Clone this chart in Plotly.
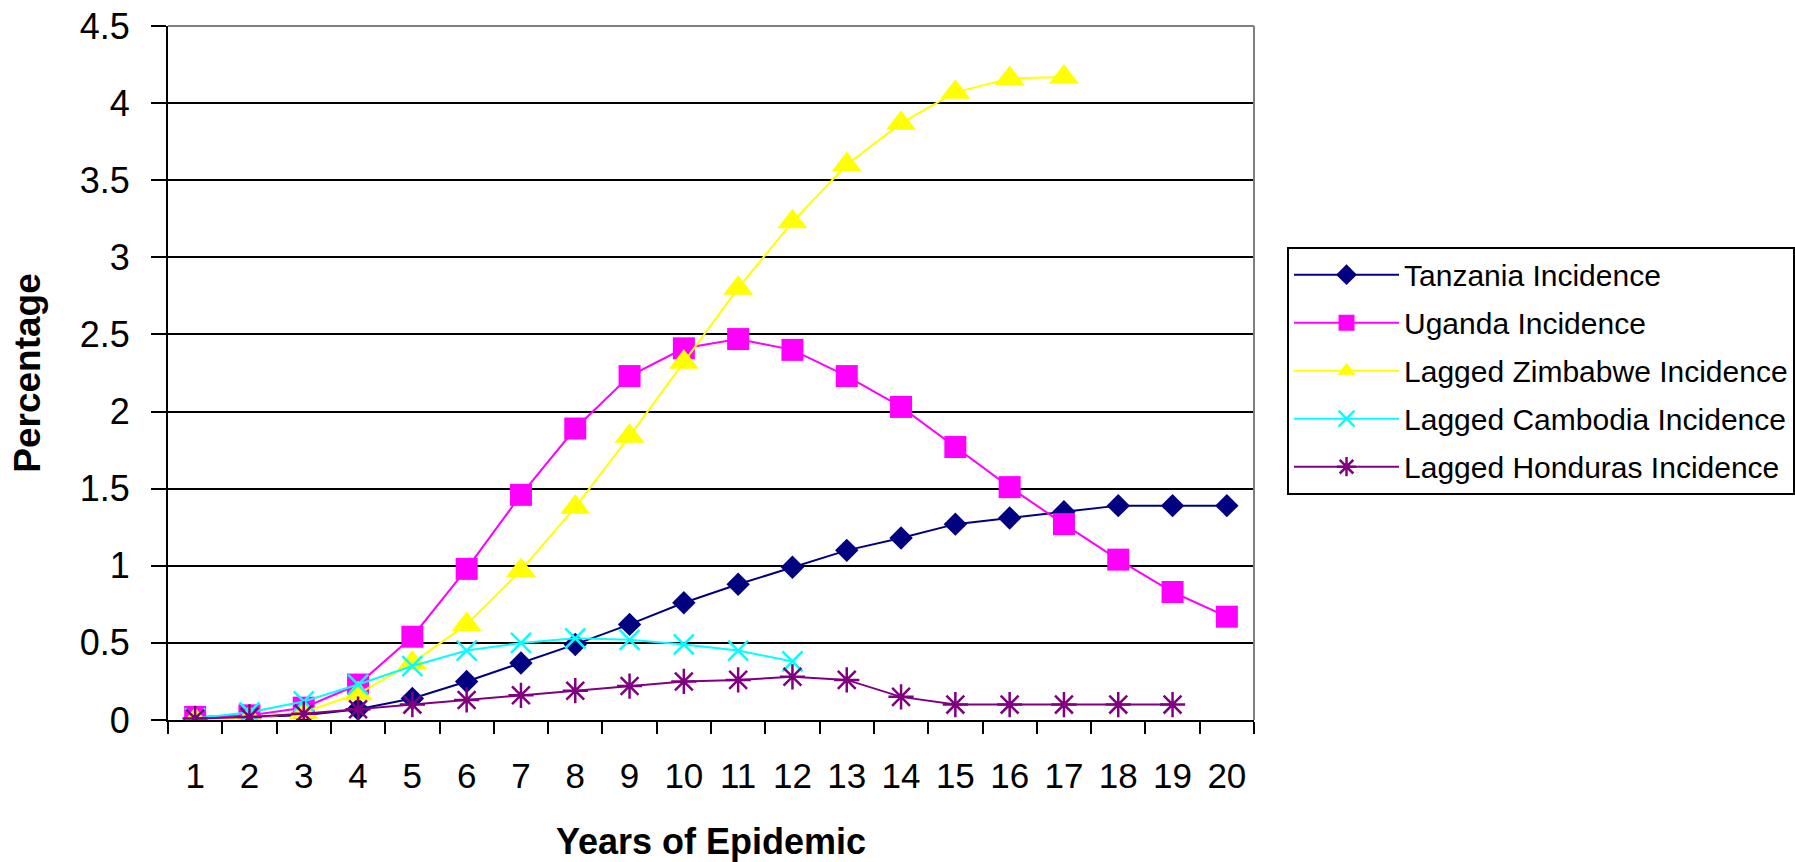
import plotly.graph_objects as go

years = [str(i) for i in range(1, 21)]

tanzania = [0.01, 0.02, 0.03, 0.07, 0.14, 0.25, 0.37, 0.49, 0.62, 0.76, 0.88, 0.99, 1.10, 1.18, 1.27, 1.31, 1.35, 1.39, 1.39, 1.39]
uganda = [0.02, 0.03, 0.08, 0.23, 0.54, 0.98, 1.46, 1.89, 2.23, 2.41, 2.47, 2.40, 2.23, 2.03, 1.77, 1.51, 1.27, 1.04, 0.83, 0.67]
zimbabwe = [0.00, 0.01, 0.05, 0.17, 0.37, 0.62, 0.97, 1.38, 1.84, 2.32, 2.80, 3.23, 3.60, 3.87, 4.07, 4.16, 4.17]
cambodia = [0.01, 0.05, 0.12, 0.23, 0.35, 0.45, 0.50, 0.53, 0.52, 0.49, 0.45, 0.38]
honduras = [0.01, 0.02, 0.04, 0.07, 0.10, 0.13, 0.16, 0.19, 0.22, 0.25, 0.26, 0.28, 0.26, 0.15, 0.10, 0.10, 0.10, 0.10, 0.10]

y_ticks = [0, 0.5, 1, 1.5, 2, 2.5, 3, 3.5, 4, 4.5]
y_tick_text = ["0", "0.5", "1", "1.5", "2", "2.5", "3", "3.5", "4", "4.5"]

series = [
    ("Tanzania Incidence", tanzania, "#000080", dict(symbol="diamond", size=18)),
    ("Uganda Incidence", uganda, "#FF00FF", dict(symbol="square", size=22)),
    ("Lagged Zimbabwe Incidence", zimbabwe, "#FFFF00", dict(symbol="triangle-up", size=26)),
    ("Lagged Cambodia Incidence", cambodia, "#00FFFF", dict(symbol="x-thin-open", size=20, line=dict(width=2.5, color="#00FFFF"))),
    ("Lagged Honduras Incidence", honduras, "#800080", dict(symbol="asterisk-open", size=21, line=dict(width=2.5, color="#800080"))),
]

fig = go.Figure()
for i, (name, vals, color, mk) in enumerate(series):
    m = dict(color=color, **mk)
    fig.add_trace(go.Scatter(
        x=years[:len(vals)], y=vals, name=name, mode="lines+markers",
        line=dict(color=color, width=2), marker=m, legendgroup=f"g{i}",
    ))

font_family = "Liberation Sans, Arial, sans-serif"

fig.update_layout(
    width=1795, height=862,
    margin=dict(l=168, r=541, t=26, b=142, autoexpand=False),
    paper_bgcolor="white", plot_bgcolor="white",
    font=dict(family=font_family, color="black"),
    showlegend=True,
    legend=dict(
        x=1.0304, y=0.682, xanchor="left", yanchor="top",
        bordercolor="black", borderwidth=2,
        font=dict(size=30, family=font_family, color="black"),
        itemwidth=105, tracegroupgap=6, traceorder="grouped",
        bgcolor="white",
    ),
    xaxis=dict(
        type="category", categoryorder="array", categoryarray=years,
        range=[-0.5, 19.5],
        showgrid=False, showline=True, linecolor="black", linewidth=2,
        ticks="outside", tickson="boundaries", ticklen=12, tickwidth=2, tickcolor="black",
        tickfont=dict(size=35, family=font_family),
        ticklabelstandoff=24,
        title=dict(text="<b>Years of Epidemic</b>", font=dict(size=36, family=font_family), standoff=40),
        zeroline=False,
    ),
    yaxis=dict(
        range=[0, 4.5], tickvals=y_ticks, ticktext=y_tick_text,
        showgrid=True, gridcolor="black", gridwidth=1.5,
        showline=True, linecolor="black", linewidth=2,
        ticks="outside", ticklen=15, tickwidth=2, tickcolor="black",
        tickfont=dict(size=36, family=font_family),
        ticklabelstandoff=14,
        title=dict(text="<b>Percentage</b>", font=dict(size=37, family=font_family), standoff=28),
        zeroline=False,
    ),
    shapes=[
        dict(type="line", xref="paper", yref="paper", x0=0, x1=1, y0=1, y1=1,
             line=dict(color="#808080", width=2), layer="above"),
        dict(type="line", xref="paper", yref="paper", x0=1, x1=1, y0=0, y1=1,
             line=dict(color="#808080", width=2), layer="above"),
    ],
)

fig.write_html("out.html")
